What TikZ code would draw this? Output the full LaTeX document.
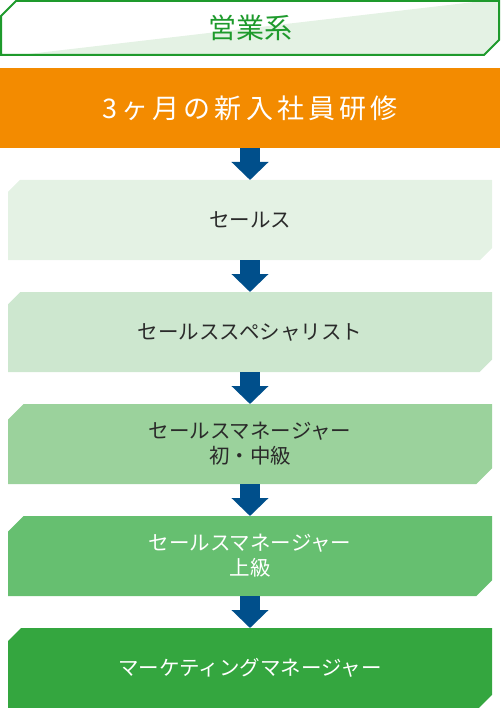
\documentclass[tikz,border=0pt]{standalone}
\usepackage{fontspec}
\setmainfont{Noto Sans CJK JP}
\newfontfamily\titlefont[LetterSpace=15]{Noto Sans CJK JP}
\usetikzlibrary{shapes.misc,arrows.meta}
\definecolor{hdrgreen}{HTML}{1E9A2C}
\definecolor{paleg}{HTML}{E4F2E4}
\definecolor{orangec}{HTML}{F38B00}
\definecolor{arrowblue}{HTML}{004F8B}
\definecolor{gA}{HTML}{E4F2E4}
\definecolor{gB}{HTML}{CDE7CF}
\definecolor{gC}{HTML}{9BD29C}
\definecolor{gD}{HTML}{66BF70}
\definecolor{gE}{HTML}{34A63F}
\definecolor{darktext}{HTML}{2A2A2A}
\begin{document}
\begin{tikzpicture}[x=1pt,y=-1pt,
  stage/.style={chamfered rectangle, chamfered rectangle corners={north west,south east},
    chamfered rectangle xsep=12pt, chamfered rectangle angle=45,
    minimum width=484pt, minimum height=80pt, inner sep=0pt, outer sep=0pt,
    draw=none, align=center, font=\fontsize{20.5}{25}\selectfont, text=darktext},
  flowarrow/.style={draw=arrowblue, line width=20pt, -{Triangle[length=18pt,width=36pt]}}
]
\useasboundingbox (0,0) rectangle (500,708);
% header
\fill[paleg] (20,55) -- (483,1) -- (499,1) -- (499,40) -- (484,55) -- cycle;
\draw[hdrgreen, line width=2pt] (1,16) -- (16,1) -- (499,1) -- (499,40) -- (484,55) -- (1,55) -- cycle;
\node[text=hdrgreen, font=\fontsize{28}{30}\selectfont] (hdr) at (250,28) {営業系};
% title
\node[fill=orangec, minimum width=500pt, minimum height=80pt, inner sep=0pt, outer sep=0pt,
  text=white, font=\fontsize{27}{30}\titlefont] (t) at (250,108) {3ヶ月の新入社員研修};
\node[stage, fill=gA] (s1) at (250,220) {セールス};
\node[stage, fill=gB] (s2) at (250,332) {セールススペシャリスト};
\node[stage, fill=gC] (s3) at (250,444) {セールスマネージャー\\初・中級};
\node[stage, fill=gD, text=white] (s4) at (250,556) {セールスマネージャー\\上級};
\node[stage, fill=gE, text=white] (s5) at (250,668) {マーケティングマネージャー};
\draw[flowarrow] (t.south) -- (s1.north);
\draw[flowarrow] (s1.south) -- (s2.north);
\draw[flowarrow] (s2.south) -- (s3.north);
\draw[flowarrow] (s3.south) -- (s4.north);
\draw[flowarrow] (s4.south) -- (s5.north);
\end{tikzpicture}
\end{document}
